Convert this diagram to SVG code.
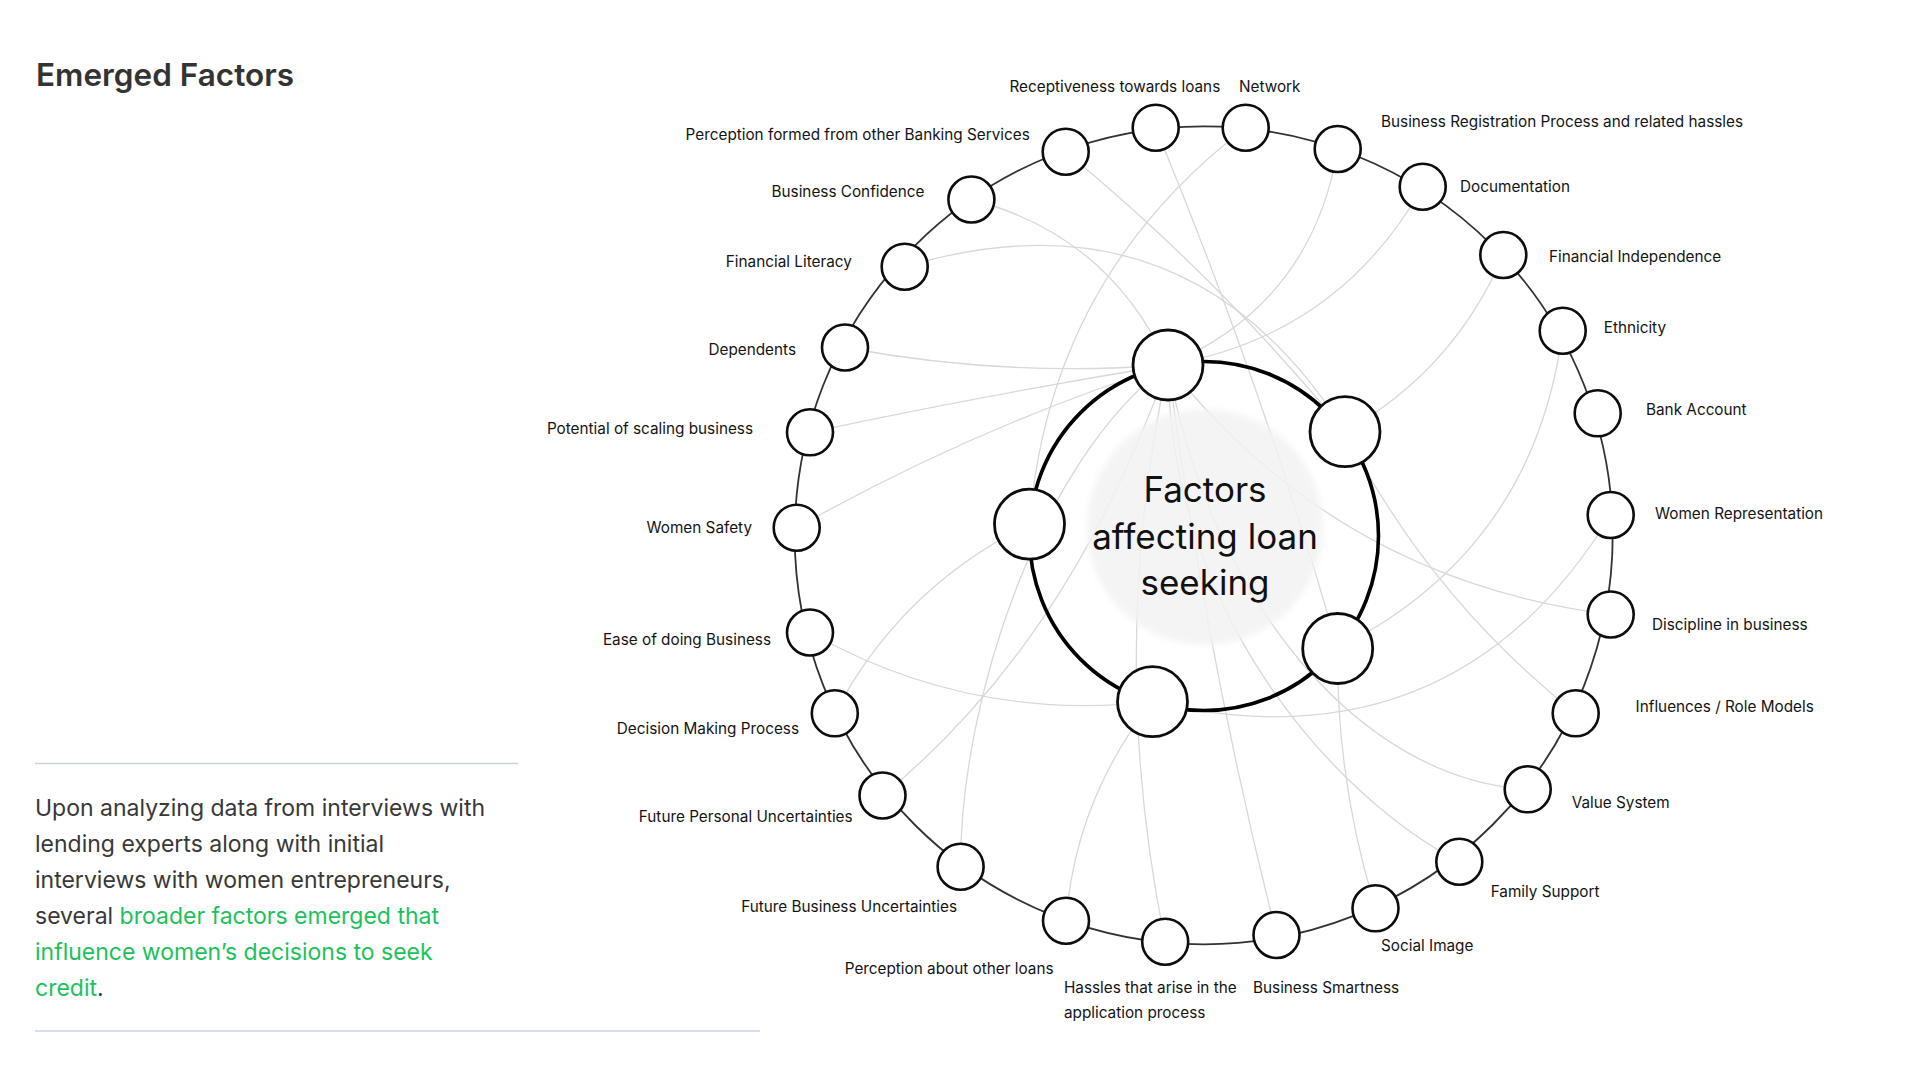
<svg xmlns="http://www.w3.org/2000/svg" width="1920" height="1080" viewBox="0 0 1920 1080">
<defs>
<style>
.lbl{font-family:Inter,"Liberation Sans",sans-serif;font-size:15.3px;fill:#141414}
.e{text-anchor:end}
.con path{fill:none;stroke:#d8d8d8;stroke-width:1.3}
.on{fill:#fff;stroke:#0d0d0d;stroke-width:2.6}
.inn{fill:#fff;stroke:#0d0d0d;stroke-width:2.8}
.para{font-family:Inter,"Liberation Sans",sans-serif;font-size:23px;fill:#383838}
.g{fill:#1dc15c}
.ctr{font-family:Inter,"Liberation Sans",sans-serif;font-size:35px;fill:#111;text-anchor:middle}
</style>
<filter id="soft" x="-20%" y="-20%" width="140%" height="140%"><feGaussianBlur stdDeviation="3"/></filter>
</defs>
<rect width="1920" height="1080" fill="#fff"/>

<text x="36" y="86" font-family="Inter,'Liberation Sans',sans-serif" font-size="31.5" font-weight="600" fill="#333">Emerged Factors</text>

<line x1="35" y1="763.5" x2="518" y2="763.5" stroke="#ccd1e2" stroke-width="1.5"/>
<line x1="35" y1="1031" x2="760" y2="1031" stroke="#ccd1e2" stroke-width="1.5"/>
<text class="para" x="35" y="816">Upon analyzing data from interviews with</text>
<text class="para" x="35" y="852">lending experts along with initial</text>
<text class="para" x="35" y="888">interviews with women entrepreneurs,</text>
<text class="para" x="35" y="924">several <tspan class="g">broader factors emerged that</tspan></text>
<text class="para" x="35" y="960"><tspan class="g">influence women’s decisions to seek</tspan></text>
<text class="para" x="35" y="996"><tspan class="g">credit</tspan>.</text>

<g id="connectors" class="con">
<path d="M1155.7,127.7 Q1263.3,388 1337.7,648.5"/>
<path d="M1245.7,127.7 Q1049,277.5 1029.5,524.2"/>
<path d="M1337.7,149 Q1312,303.5 1168,365"/>
<path d="M1422.7,186.7 Q1337.7,336.5 1168,365"/>
<path d="M1503.3,255 Q1454,370 1345,431.7"/>
<path d="M1562.7,330.7 Q1534.6,549 1337.7,648.5"/>
<path d="M1610.7,515 Q1453,772 1152.5,701.7"/>
<path d="M1610.7,614.5 Q1337.5,580 1168,365"/>
<path d="M904.7,266.7 Q1187.8,182.4 1345,431.7"/>
<path d="M1345,431.7 Q1429.6,597.7 1575.7,713.3"/>
<path d="M1527.7,789.3 C1360,780 1210,600 1168,365"/>
<path d="M1459.3,861.7 C1340,800 1170,620 1168,365"/>
<path d="M1375.5,908.3 Q1336,780 1337.7,648.5"/>
<path d="M1276.5,935 Q1204.5,649.5 1168,365"/>
<path d="M1165.2,941.7 Q1106,652.5 1168,365"/>
<path d="M1066,920.7 Q1075.5,798.5 1152.5,701.7"/>
<path d="M960.6,866.7 C960,700 1040,460 1168,365"/>
<path d="M882.5,795.5 Q1070,642 1168,365"/>
<path d="M834.8,713.3 Q901,587 1029.5,524.2"/>
<path d="M810,632.5 Q969.5,722.5 1152.5,701.7"/>
<path d="M796.7,527.7 Q973.5,428 1168,365"/>
<path d="M810,432.3 Q985,395 1168,365"/>
<path d="M845,347.5 Q1004.5,377.5 1168,365"/>
<path d="M971.4,199.5 Q1109,235 1168,365"/>
<path d="M1065.7,151.7 Q1219,278 1345,431.7"/>
</g>

<circle cx="1205" cy="527" r="118" fill="#f2f2f2" fill-opacity="0.85" filter="url(#soft)"/>

<circle id="outer-ring" cx="1203.7" cy="535.3" r="409" fill="none" stroke="#333" stroke-width="1.8"/>
<circle id="inner-ring" cx="1204" cy="536" r="174.5" fill="none" stroke="#000" stroke-width="3.6"/>

<g id="inner-nodes">
<circle id="n-inner-top" class="inn" cx="1168" cy="365" r="35"/>
<circle id="n-inner-right" class="inn" cx="1345" cy="431.7" r="35"/>
<circle id="n-inner-left" class="inn" cx="1029.5" cy="524.2" r="35"/>
<circle id="n-inner-bottomright" class="inn" cx="1337.7" cy="648.5" r="35"/>
<circle id="n-inner-bottom" class="inn" cx="1152.5" cy="701.7" r="35"/>
</g>

<g id="center-label">
<text class="ctr" x="1205" y="502">Factors</text>
<text class="ctr" x="1205" y="548.5">affecting loan</text>
<text class="ctr" x="1205" y="595">seeking</text>
</g>

<g id="n-receptiveness"><circle class="on" cx="1155.7" cy="127.7" r="23"/><text class="lbl" x="1009.5" y="92.3">Receptiveness towards loans</text></g>
<g id="n-network"><circle class="on" cx="1245.7" cy="127.7" r="23"/><text class="lbl" x="1239" y="92.3">Network</text></g>
<g id="n-busreg"><circle class="on" cx="1337.7" cy="149" r="23"/><text class="lbl" x="1381" y="127">Business Registration Process and related hassles</text></g>
<g id="n-documentation"><circle class="on" cx="1422.7" cy="186.7" r="23"/><text class="lbl" x="1460" y="191.7">Documentation</text></g>
<g id="n-fin-independence"><circle class="on" cx="1503.3" cy="255" r="23"/><text class="lbl" x="1549" y="261.7">Financial Independence</text></g>
<g id="n-ethnicity"><circle class="on" cx="1562.7" cy="330.7" r="23"/><text class="lbl" x="1603.7" y="333">Ethnicity</text></g>
<g id="n-bank"><circle class="on" cx="1597.7" cy="413.3" r="23"/><text class="lbl" x="1646" y="415">Bank Account</text></g>
<g id="n-women-rep"><circle class="on" cx="1610.7" cy="515" r="23"/><text class="lbl" x="1655" y="519">Women Representation</text></g>
<g id="n-discipline"><circle class="on" cx="1610.7" cy="614.5" r="23"/><text class="lbl" x="1652" y="630">Discipline in business</text></g>
<g id="n-influences"><circle class="on" cx="1575.7" cy="713.3" r="23"/><text class="lbl" x="1635.6" y="711.7">Influences / Role Models</text></g>
<g id="n-value"><circle class="on" cx="1527.7" cy="789.3" r="23"/><text class="lbl" x="1571.7" y="808">Value System</text></g>
<g id="n-family"><circle class="on" cx="1459.3" cy="861.7" r="23"/><text class="lbl" x="1490.7" y="897.3">Family Support</text></g>
<g id="n-social"><circle class="on" cx="1375.5" cy="908.3" r="23"/><text class="lbl" x="1381" y="950.7">Social Image</text></g>
<g id="n-smartness"><circle class="on" cx="1276.5" cy="935" r="23"/><text class="lbl" x="1253" y="993">Business Smartness</text></g>
<g id="n-hassles"><circle class="on" cx="1165.2" cy="941.7" r="23"/><text class="lbl" x="1064" y="993">Hassles that arise in the</text><text class="lbl" x="1064" y="1017.5">application process</text></g>
<g id="n-perc-loans"><circle class="on" cx="1066" cy="920.7" r="23"/><text class="lbl e" x="1053.5" y="974">Perception about other loans</text></g>
<g id="n-fbu"><circle class="on" cx="960.6" cy="866.7" r="23"/><text class="lbl e" x="957" y="911.7">Future Business Uncertainties</text></g>
<g id="n-fpu"><circle class="on" cx="882.5" cy="795.5" r="23"/><text class="lbl e" x="852.6" y="821.7">Future Personal Uncertainties</text></g>
<g id="n-dmp"><circle class="on" cx="834.8" cy="713.3" r="23"/><text class="lbl e" x="799" y="734">Decision Making Process</text></g>
<g id="n-ease"><circle class="on" cx="810" cy="632.5" r="23"/><text class="lbl e" x="771" y="645">Ease of doing Business</text></g>
<g id="n-safety"><circle class="on" cx="796.7" cy="527.7" r="23"/><text class="lbl e" x="752" y="532.7">Women Safety</text></g>
<g id="n-potential"><circle class="on" cx="810" cy="432.3" r="23"/><text class="lbl e" x="753" y="434">Potential of scaling business</text></g>
<g id="n-dependents"><circle class="on" cx="845" cy="347.5" r="23"/><text class="lbl e" x="796" y="355">Dependents</text></g>
<g id="n-fin-literacy"><circle class="on" cx="904.7" cy="266.7" r="23"/><text class="lbl e" x="851.8" y="267.3">Financial Literacy</text></g>
<g id="n-bus-confidence"><circle class="on" cx="971.4" cy="199.5" r="23"/><text class="lbl e" x="924.5" y="197.3">Business Confidence</text></g>
<g id="n-perc-banking"><circle class="on" cx="1065.7" cy="151.7" r="23"/><text class="lbl e" x="1029.8" y="140">Perception formed from other Banking Services</text></g>
</svg>
